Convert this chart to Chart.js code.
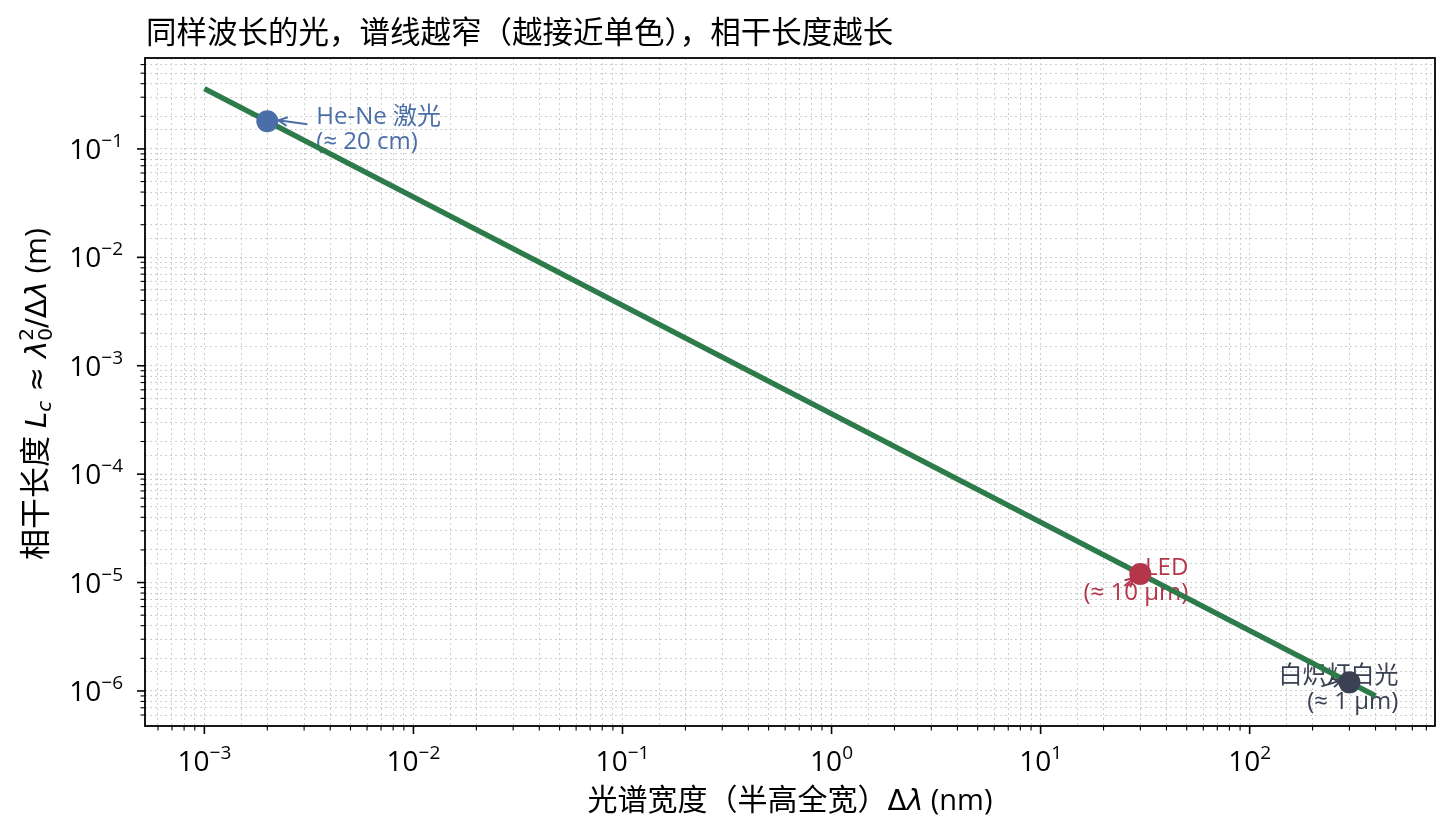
<!DOCTYPE html>
<html>
<head>
<meta charset="utf-8">
<script src="https://cdn.jsdelivr.net/npm/chart.js@4.4.1/dist/chart.umd.min.js"></script>
<style>
  html, body { margin: 0; padding: 0; background: #fff; }
  #wrap { width: 1452px; height: 840px; }
</style>
</head>
<body>
<div id="wrap"><canvas id="chart" width="1452" height="840"></canvas></div>
<script>
// 数据：Lc = λ0² / Δλ，读自原图
const linePoints = [
  { x: 1e-3, y: 0.36 },
  { x: 400, y: 9e-7 }
];
const sourceNames = ["He-Ne 激光", "LED", "白炽灯白光"];
const sourceNotes = ["(≈ 20 cm)", "(≈ 10 μm)", "(≈ 1 μm)"];
const sourceWidths = [0.002, 30, 300];          // Δλ (nm)
const sourceLengths = [0.18, 1.2e-5, 1.2e-6];   // Lc (m)
const sourceColors = ["#4a6fa8", "#b5364b", "#3b4152"];

const xDecades = [-3, -2, -1, 0, 1, 2];
const yDecades = [-6, -5, -4, -3, -2, -1];
const xRange = [5.2e-4, 770];
const yRange = [4.75e-7, 0.69];

const TITLE = "同样波长的光，谱线越窄（越接近单色），相干长度越长";
const CJK = '"Open Sans", "Noto Sans CJK SC", sans-serif';
const MATH = '"DejaVu Sans", sans-serif';
const LINE_GREEN = "#2d7a4b";

function isDecade(v) {
  const l = Math.log10(v);
  return Math.abs(l - Math.round(l)) < 1e-6;
}
function isSubTick(v) {
  const e = Math.floor(Math.log10(v) + 1e-9);
  const m = v / Math.pow(10, e);
  return Math.abs(m - Math.round(m)) < 1e-6;
}

// 画一串混排文字（普通/斜体/上下标）
function drawRuns(ctx, runs, x, y, align) {
  let total = 0;
  runs.forEach(r => {
    ctx.font = r.font;
    r.w = r.stack
      ? Math.max(ctx.measureText(r.sup).width, ctx.measureText(r.sub).width)
      : ctx.measureText(r.t).width;
    total += r.w;
  });
  let cx = align === "center" ? x - total / 2 : (align === "right" ? x - total : x);
  ctx.textBaseline = "alphabetic";
  ctx.textAlign = "left";
  runs.forEach(r => {
    ctx.font = r.font;
    if (r.stack) {
      ctx.fillText(r.sup, cx, y - 13);
      ctx.fillText(r.sub, cx, y + 6);
    } else {
      ctx.fillText(r.t, cx, y + (r.dy || 0));
    }
    cx += r.w;
  });
}

function drawArrow(ctx, x1, y1, x2, y2, color) {
  const a = Math.atan2(y2 - y1, x2 - x1);
  ctx.save();
  ctx.strokeStyle = color;
  ctx.lineWidth = 2;
  ctx.beginPath();
  ctx.moveTo(x1, y1);
  ctx.lineTo(x2, y2);
  ctx.moveTo(x2 - 10 * Math.cos(a - 0.45), y2 - 10 * Math.sin(a - 0.45));
  ctx.lineTo(x2, y2);
  ctx.lineTo(x2 - 10 * Math.cos(a + 0.45), y2 - 10 * Math.sin(a + 0.45));
  ctx.stroke();
  ctx.restore();
}

function expLabel(e) {
  return [
    { t: "10", font: "28px " + CJK },
    { t: (e < 0 ? "−" : "") + Math.abs(e), font: "19px " + CJK, dy: -12 }
  ];
}

const decorPlugin = {
  id: "decor",
  beforeDatasetsDraw(chart) {
    const { ctx, scales: { x, y } } = chart;
    ctx.save();
    ctx.font = "24px " + CJK;
    ctx.textBaseline = "middle";
    // He-Ne
    let px = x.getPixelForValue(sourceWidths[0]), py = y.getPixelForValue(sourceLengths[0]);
    ctx.fillStyle = sourceColors[0];
    ctx.textAlign = "left";
    ctx.fillText(sourceNames[0], px + 49, py - 4);
    ctx.fillText(sourceNotes[0], px + 49, py + 21);
    drawArrow(ctx, px + 40, py + 3, px + 11, py - 1, sourceColors[0]);
    // LED
    px = x.getPixelForValue(sourceWidths[1]); py = y.getPixelForValue(sourceLengths[1]);
    ctx.fillStyle = sourceColors[1];
    ctx.textAlign = "right";
    ctx.fillText(sourceNames[1], px + 48, py - 6);
    ctx.fillText(sourceNotes[1], px + 48, py + 19);
    drawArrow(ctx, px - 16, py + 12, px - 6, py + 4, sourceColors[1]);
    // 白炽灯
    px = x.getPixelForValue(sourceWidths[2]); py = y.getPixelForValue(sourceLengths[2]);
    ctx.fillStyle = sourceColors[2];
    ctx.fillText(sourceNames[2], px + 49, py - 6);
    ctx.fillText(sourceNotes[2], px + 49, py + 20);
    drawArrow(ctx, px - 28, py + 4, px - 8, py - 2, sourceColors[2]);
    ctx.restore();
  },
  afterDraw(chart) {
    const { ctx, chartArea: a, scales: { x, y } } = chart;
    ctx.save();
    // 外框
    ctx.strokeStyle = "#000";
    ctx.lineWidth = 1.8;
    ctx.strokeRect(a.left, a.top, a.right - a.left, a.bottom - a.top);

    // 刻度线
    x.ticks.forEach(t => {
      if (!isSubTick(t.value)) return;
      const px = x.getPixelForValue(t.value);
      if (px < a.left + 1 || px > a.right - 1) return;
      const len = isDecade(t.value) ? 8 : 4.5;
      ctx.lineWidth = isDecade(t.value) ? 1.6 : 1.1;
      ctx.beginPath(); ctx.moveTo(px, a.bottom); ctx.lineTo(px, a.bottom + len); ctx.stroke();
    });
    y.ticks.forEach(t => {
      if (!isSubTick(t.value)) return;
      const py = y.getPixelForValue(t.value);
      if (py < a.top + 1 || py > a.bottom - 1) return;
      const len = isDecade(t.value) ? 8 : 4.5;
      ctx.lineWidth = isDecade(t.value) ? 1.6 : 1.1;
      ctx.beginPath(); ctx.moveTo(a.left, py); ctx.lineTo(a.left - len, py); ctx.stroke();
    });

    // 刻度标签 10^n
    ctx.fillStyle = "#000";
    xDecades.forEach(e => {
      drawRuns(ctx, expLabel(e), x.getPixelForValue(Math.pow(10, e)), a.bottom + 45, "center");
    });
    yDecades.forEach(e => {
      drawRuns(ctx, expLabel(e), a.left - 22, y.getPixelForValue(Math.pow(10, e)) + 10, "right");
    });

    // 标题
    ctx.font = "30.5px " + CJK;
    ctx.textAlign = "left";
    ctx.textBaseline = "middle";
    ctx.fillText(TITLE, a.left + 1, 34);

    // x 轴标题
    drawRuns(ctx, [
      { t: "光谱宽度（半高全宽）", font: "30px " + CJK },
      { t: "Δ", font: "28px " + MATH },
      { t: "λ", font: "italic 28px " + MATH },
      { t: " (nm)", font: "29px " + CJK }
    ], (a.left + a.right) / 2, 810, "center");

    // y 轴标题
    ctx.save();
    ctx.translate(46, (a.top + a.bottom) / 2 + 2);
    ctx.rotate(-Math.PI / 2);
    drawRuns(ctx, [
      { t: "相干长度 ", font: "31px " + CJK },
      { t: "L", font: "italic 29px " + MATH },
      { t: "c", font: "italic 20px " + MATH, dy: 5 },
      { t: " ≈ ", font: "29px " + MATH },
      { t: "λ", font: "italic 29px " + MATH },
      { stack: true, sup: "2", sub: "0", font: "20px " + MATH },
      { t: "/Δ", font: "29px " + MATH },
      { t: "λ", font: "italic 29px " + MATH },
      { t: " (m)", font: "30px " + CJK }
    ], 0, 0, "center");
    ctx.restore();

    ctx.restore();
  }
};

const gridStyle = {
  color: "#cfcfcf",
  lineWidth: 1,
  drawTicks: false
};

new Chart(document.getElementById("chart"), {
  type: "line",
  data: {
    datasets: [
      {
        data: linePoints,
        borderColor: LINE_GREEN,
        borderWidth: 5.5,
        pointRadius: 0,
        fill: false,
        order: 2
      },
      {
        data: sourceWidths.map((w, i) => ({ x: w, y: sourceLengths[i] })),
        showLine: false,
        pointRadius: 11,
        pointHoverRadius: 11,
        pointBorderWidth: 0,
        pointBackgroundColor: sourceColors,
        pointBorderColor: sourceColors,
        order: 1
      }
    ]
  },
  options: {
    responsive: false,
    animation: false,
    events: [],
    layout: { padding: { top: 58, right: 17, left: 0, bottom: 0 } },
    plugins: { legend: { display: false }, tooltip: { enabled: false }, title: { display: false } },
    scales: {
      x: {
        type: "logarithmic",
        min: xRange[0],
        max: xRange[1],
        ticks: { display: false, autoSkip: false },
        grid: gridStyle,
        border: { display: false, dash: [2, 3] },
        afterFit: s => { s.height = 114; }
      },
      y: {
        type: "logarithmic",
        min: yRange[0],
        max: yRange[1],
        ticks: { display: false, autoSkip: false },
        grid: gridStyle,
        border: { display: false, dash: [2, 3] },
        afterFit: s => { s.width = 145; }
      }
    }
  },
  plugins: [decorPlugin]
});
</script>
</body>
</html>
